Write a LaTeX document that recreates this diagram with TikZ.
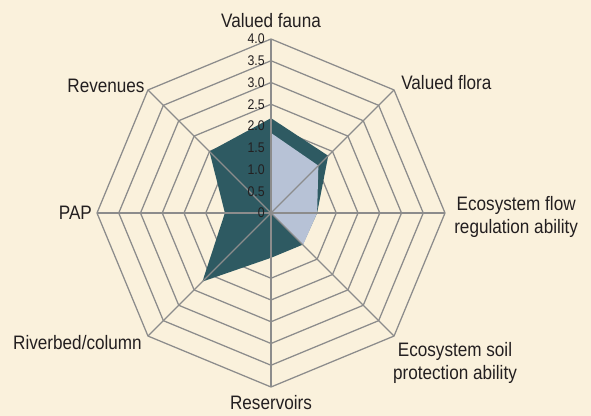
\documentclass[tikz,border=0pt]{standalone}
\usepackage{fontspec}
\setmainfont{Liberation Sans}[FakeStretch=0.88]
\usetikzlibrary{calc}

\definecolor{bgcream}{HTML}{FAF1DC}
\definecolor{tealdark}{HTML}{2E5A62}
\definecolor{bluelight}{HTML}{B7C2D6}
\definecolor{gridgray}{HTML}{8C8C8C}
\definecolor{labeltext}{HTML}{231F20}

\begin{document}
\begin{tikzpicture}[x=0.75pt, y=0.75pt,
    gridline/.style={draw=gridgray, line width=0.95pt},
    axislabel/.style={font=\fontsize{14.6}{17.2}\selectfont, text=labeltext, align=center, inner sep=0pt},
    ticklabel/.style={font=\fontsize{10.5}{12}\selectfont, text=labeltext, anchor=east, inner sep=0pt}]
        % background
        \fill[bgcream] (-271,-203) rectangle (320,213);
        \useasboundingbox (-271,-203) rectangle (320,213);

        % rings
        \foreach \k in {1,...,8} {
            \draw[gridline] (90:\k*21.75) \foreach \a in {45,0,-45,-90,-135,-180,-225} { -- (\a:\k*21.75) } -- cycle;
        }

        % dark series
        \fill[tealdark] (90:2.18*43.5) -- (45:1.86*43.5) -- (0:1.06*43.5) -- (-45:1.03*43.5)
            -- (-90:1.03*43.5) -- (-135:2.23*43.5) -- (180:1.06*43.5) -- (135:2.0*43.5) -- cycle;

        % light series
        \fill[bluelight] (0,0) -- (90:1.84*43.5) -- (45:1.54*43.5) -- (0:1.06*43.5) -- (-45:1.04*43.5) -- cycle;

        % spokes
        \foreach \a in {0,45,...,315} {
            \draw[gridline] (0,0) -- (\a:174);
        }

        % scale
        \foreach \k/\lbl in {0/0, 1/0.5, 2/1.0, 3/1.5, 4/2.0, 5/2.5, 6/3.0, 7/3.5, 8/4.0} {
            \node[ticklabel] (tick\k) at (-6,\k*21.75) {\lbl};
        }

        % axis labels
        \node[axislabel] (fauna) at (0,192) {Valued fauna};
        \node[axislabel, anchor=west] (flora) at (130,130) {Valued flora};
        \node[axislabel, anchor=west] (flow) at (183,-4) {Ecosystem flow\\regulation ability};
        \node[axislabel] (soil) at (184,-150) {Ecosystem soil\\protection ability};
        \node[axislabel] (reservoirs) at (0,-190) {Reservoirs};
        \node[axislabel] (riverbed) at (-193.5,-130) {Riverbed/column};
        \node[axislabel] (pap) at (-195.6,0) {PAP};
        \node[axislabel] (revenues) at (-165,127) {Revenues};
    \end{tikzpicture}
\end{document}
